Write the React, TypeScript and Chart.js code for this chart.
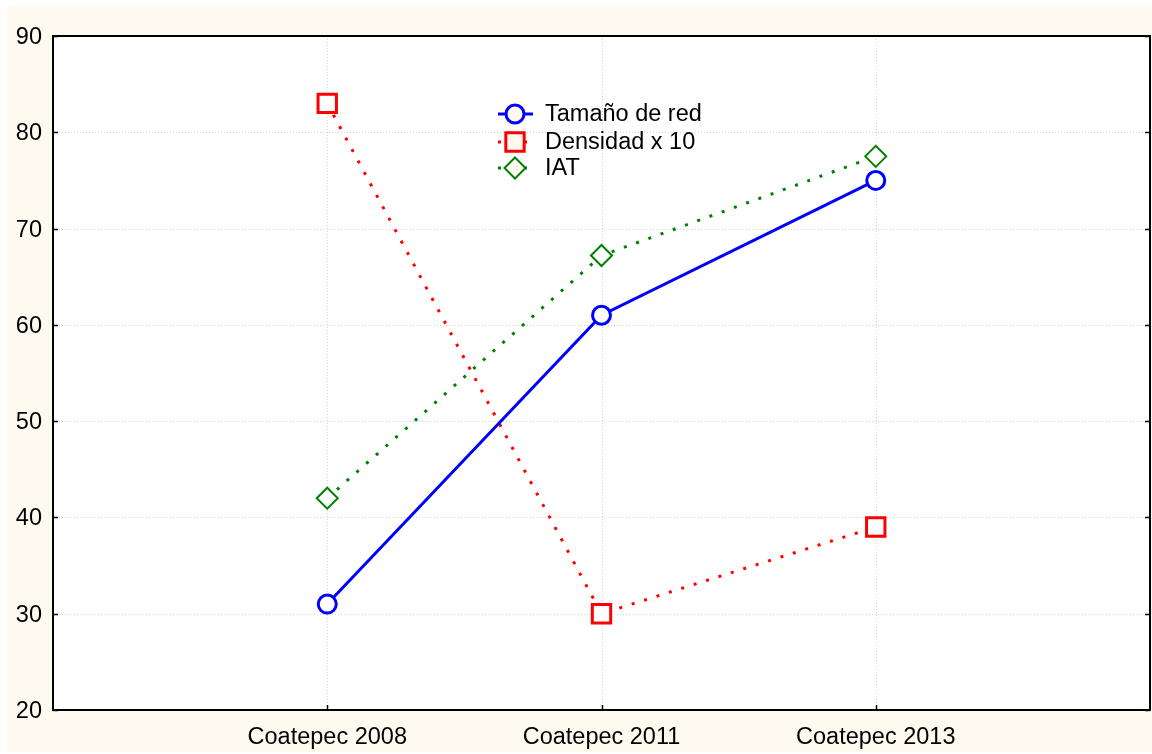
import React, { useEffect, useRef } from 'react';
import { Chart, registerables } from 'chart.js';

Chart.register(...registerables);

// ---- Data ----
const categories = ['Coatepec 2008', 'Coatepec 2011', 'Coatepec 2013'];
const tamanoDeRed = [31, 61, 75];
const densidadX10 = [83, 30, 39];
const iat = [42, 67.2, 77.5];
const yTickValues = [20, 30, 40, 50, 60, 70, 80, 90];
const seriesLabels = ['Tamaño de red', 'Densidad x 10', 'IAT'];

const CREAM = '#fffaf0';
const FONT = '"Liberation Sans", Arial, sans-serif';
const FONT_SIZE = 23.5;

// pad categories with empty slots at both ends so the points sit at 1/4, 2/4, 3/4
const pad = (arr: any[], v: any) => [v, ...arr, v];

const framePlugin = {
  id: 'frame',
  beforeDraw(chart: any) {
    const { ctx, chartArea: a, width, height } = chart;
    ctx.save();
    ctx.fillStyle = CREAM;
    ctx.fillRect(0, 0, width, height);
    ctx.fillStyle = '#ffffff';
    ctx.fillRect(a.left, a.top, a.right - a.left, a.bottom - a.top);
    ctx.strokeStyle = '#d4d4d4';
    ctx.lineWidth = 1;
    ctx.setLineDash([1, 2]);
    const ys = chart.scales.y;
    const xs = chart.scales.x;
    ys.ticks.forEach((t: any) => {
      const py = Math.round(ys.getPixelForValue(t.value)) + 0.5;
      if (py > a.top + 2 && py < a.bottom - 2) {
        ctx.beginPath();
        ctx.moveTo(a.left, py);
        ctx.lineTo(a.right, py);
        ctx.stroke();
      }
    });
    xs.ticks.forEach((t: any, i: number) => {
      const px = Math.round(xs.getPixelForTick(i)) + 0.5;
      if (px > a.left + 2 && px < a.right - 2) {
        ctx.beginPath();
        ctx.moveTo(px, a.top);
        ctx.lineTo(px, a.bottom);
        ctx.stroke();
      }
    });
    ctx.restore();
  },
  afterDatasetsDraw(chart: any) {
    const { ctx, chartArea: a } = chart;
    const ys = chart.scales.y;
    const xs = chart.scales.x;
    ctx.save();
    ctx.setLineDash([]);
    ctx.strokeStyle = '#000000';
    ctx.lineWidth = 2;
    ctx.strokeRect(a.left, a.top, a.right - a.left, a.bottom - a.top);
    // inward tick marks
    ctx.lineWidth = 1.5;
    ys.ticks.forEach((t: any) => {
      const py = Math.round(ys.getPixelForValue(t.value)) + 0.5;
      ctx.beginPath();
      ctx.moveTo(a.left, py);
      ctx.lineTo(a.left + 5, py);
      ctx.stroke();
      ctx.beginPath();
      ctx.moveTo(a.right, py);
      ctx.lineTo(a.right - 5, py);
      ctx.stroke();
    });
    xs.ticks.forEach((t: any, i: number) => {
      const px = Math.round(xs.getPixelForTick(i)) + 0.5;
      if (px > a.left + 2 && px < a.right - 2) {
        ctx.beginPath();
        ctx.moveTo(px, a.bottom);
        ctx.lineTo(px, a.bottom - 5);
        ctx.stroke();
      }
    });

    // legend inside plot
    const lx0 = 491;
    const lx1 = 526;
    const mx = 508;
    const tx = 538;
    const rowsY = [108, 136, 162];
    chart.data.datasets.forEach((ds: any, i: number) => {
      const y = rowsY[i];
      ctx.save();
      ctx.strokeStyle = ds.borderColor;
      ctx.lineWidth = ds.borderWidth;
      ctx.setLineDash(ds.borderDash || []);
      ctx.beginPath();
      ctx.moveTo(lx0, y);
      ctx.lineTo(lx1, y);
      ctx.stroke();
      ctx.setLineDash([]);
      ctx.lineWidth = ds.pointBorderWidth;
      ctx.strokeStyle = ds.pointBorderColor;
      ctx.fillStyle = CREAM;
      ctx.beginPath();
      if (ds.pointStyle === 'circle') {
        ctx.arc(mx, y, ds.pointRadius, 0, Math.PI * 2);
      } else if (ds.pointStyle === 'rect') {
        const h = Math.SQRT1_2 * ds.pointRadius;
        ctx.rect(mx - h, y - h, 2 * h, 2 * h);
      } else {
        const r = ds.pointRadius;
        ctx.moveTo(mx - r, y);
        ctx.lineTo(mx, y - r);
        ctx.lineTo(mx + r, y);
        ctx.lineTo(mx, y + r);
        ctx.closePath();
      }
      ctx.fill();
      ctx.stroke();
      ctx.fillStyle = '#000000';
      ctx.font = `${FONT_SIZE}px ${FONT}`;
      ctx.textBaseline = 'middle';
      ctx.textAlign = 'left';
      ctx.fillText(ds.label, tx, y + 1);
      ctx.restore();
    });
    ctx.restore();
  },
};

export default function App() {
  const ref = useRef<HTMLCanvasElement>(null);
  useEffect(() => {
    if (!ref.current) return;
    const chart = new Chart(ref.current, {
      type: 'line',
      data: {
        labels: pad(categories, ''),
        datasets: [
          {
            label: seriesLabels[0],
            data: pad(tamanoDeRed, null),
            borderColor: '#0000ff',
            borderWidth: 3,
            borderDash: [],
            pointStyle: 'circle',
            pointRadius: 9,
            pointBorderWidth: 3,
            pointBorderColor: '#0000ff',
            pointBackgroundColor: '#ffffff',
            backgroundColor: '#ffffff',
          },
          {
            label: seriesLabels[1],
            data: pad(densidadX10, null),
            borderColor: '#ff0000',
            borderWidth: 3,
            borderDash: [3, 10],
            pointStyle: 'rect',
            pointRadius: 13,
            pointBorderWidth: 3,
            pointBorderColor: '#ff0000',
            pointBackgroundColor: '#ffffff',
            backgroundColor: '#ffffff',
          },
          {
            label: seriesLabels[2],
            data: pad(iat, null),
            borderColor: '#008000',
            borderWidth: 3,
            borderDash: [3, 10],
            pointStyle: 'rectRot',
            pointRadius: 10.5,
            pointBorderWidth: 2,
            pointBorderColor: '#008000',
            pointBackgroundColor: '#ffffff',
            backgroundColor: '#ffffff',
          },
        ] as any,
      },
      options: {
        responsive: false,
        animation: false,
        layout: { autoPadding: false, padding: { top: 30, right: 2, left: 0, bottom: 0 } },
        plugins: {
          legend: { display: false },
          tooltip: { enabled: false },
        },
        scales: {
          x: {
            type: 'category',
            offset: false,
            grid: { display: false, drawTicks: false },
            border: { display: false },
            ticks: {
              autoSkip: false,
              maxRotation: 0,
              padding: 13,
              color: '#000000',
              font: { family: FONT, size: FONT_SIZE },
            },
            afterFit: (s: any) => {
              s.height = 42;
              s.paddingRight = 0;
            },
          },
          y: {
            min: 20,
            max: 90,
            afterBuildTicks: (s: any) => {
              s.ticks = yTickValues.map((v) => ({ value: v }));
            },
            grid: { display: false, drawTicks: false },
            border: { display: false },
            ticks: {
              padding: 11,
              labelOffset: 1.5,
              color: '#000000',
              font: { family: FONT, size: FONT_SIZE },
            },
            afterFit: (s: any) => {
              s.width = 46;
            },
          },
        },
      },
      plugins: [framePlugin],
    });
    return () => chart.destroy();
  }, []);

  return (
    <div style={{ position: 'absolute', left: 7, top: 6 }}>
      <canvas ref={ref} width={1145} height={746} style={{ display: 'block', width: 1145, height: 746 }} />
    </div>
  );
}
